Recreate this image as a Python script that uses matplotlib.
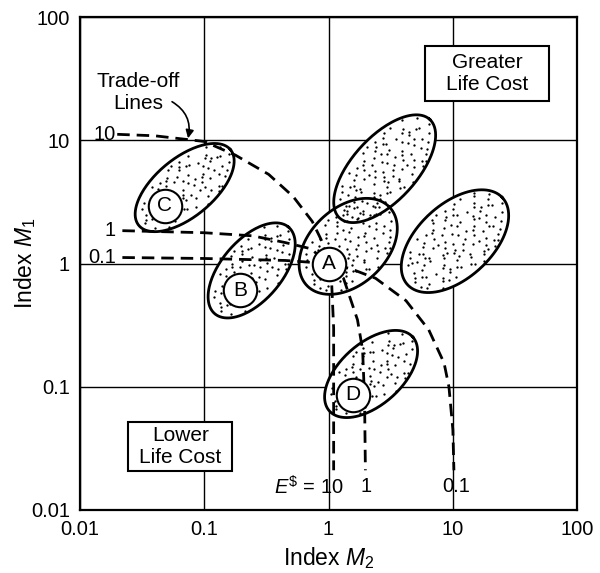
import matplotlib.pyplot as plt
import numpy as np

plt.rcParams['font.family'] = ['Liberation Sans', 'DejaVu Sans']
plt.rcParams['mathtext.fontset'] = 'custom'
plt.rcParams['mathtext.rm'] = 'Liberation Sans'
plt.rcParams['mathtext.it'] = 'Liberation Sans:italic'

# material classes: centre (M2, M1), spread in decades, tilt in degrees
center_m2 = [1.44, 0.241, 0.0697, 2.2, 2.83, 10.4]
center_m1 = [1.38, 0.88, 4.14, 0.127, 5.89, 1.52]
semi_major = [0.46, 0.46, 0.48, 0.45, 0.54, 0.52]
semi_minor = [0.31, 0.245, 0.237, 0.25, 0.26, 0.30]
tilt_deg = [44, 50, 40, 42, 48, 43]

# circled letters
label_names = ['A', 'B', 'C', 'D']
label_m2 = [1.0, 0.195, 0.0484, 1.56]
label_m1 = [1.0, 0.605, 2.94, 0.086]

# trade-off lines, E$ = 10, 1, 0.1
curve_10_m2 = [0.020, 0.040, 0.1, 0.178, 0.33, 0.52, 0.74, 0.89, 1.0, 1.06, 1.1, 1.1, 1.1]
curve_10_m1 = [11.2, 10.9, 9.8, 7.6, 5.3, 3.5, 2.2, 1.5, 1.0, 0.7, 0.3, 0.08, 0.021]
curve_1_m2 = [0.022, 0.1, 0.245, 0.45, 0.72, 1.0, 1.32, 1.71, 1.88, 1.95, 1.98]
curve_1_m1 = [1.85, 1.78, 1.68, 1.48, 1.32, 1.0, 0.76, 0.35, 0.2, 0.079, 0.021]
curve_01_m2 = [0.022, 0.1, 0.45, 1.0, 1.5, 2.39, 4.2, 6.4, 8.5, 9.3, 10.0, 10.2]
curve_01_m1 = [1.12, 1.10, 1.06, 1.0, 0.91, 0.76, 0.5, 0.29, 0.156, 0.1, 0.045, 0.021]

ticks = [0.01, 0.1, 1, 10, 100]
tick_labels = ['0.01', '0.1', '1', '10', '100']


def halton(i, base):
    f, r = 1.0, 0.0
    while i > 0:
        f /= base
        r += f * (i % base)
        i //= base
    return r


fig = plt.figure(figsize=(6, 5.73), dpi=100)
ax = fig.add_axes([0.133, 0.110, 0.829, 0.860])
ax.set_xscale('log')
ax.set_yscale('log')
ax.set_xlim(0.01, 100)
ax.set_ylim(0.01, 100)
ax.set_xticks(ticks)
ax.set_xticklabels(tick_labels)
ax.set_yticks(ticks)
ax.set_yticklabels(tick_labels)
ax.minorticks_off()
ax.tick_params(length=0, labelsize=14.5, pad=7)
ax.grid(True, color='black', lw=1.0)
ax.set_axisbelow(True)
for s in ax.spines.values():
    s.set_linewidth(1.6)

ax.set_xlabel(r'Index $M_2$', fontsize=16.5)
ax.set_ylabel(r'Index $M_1$', fontsize=16.5)
ax.xaxis.set_label_coords(0.5, -0.072)
ax.yaxis.set_label_coords(-0.085, 0.5)

# stipple texture (Halton points over the unit disk)
stip_u = np.array([halton(i, 2) for i in range(1, 400)]) * 2 - 1
stip_v = np.array([halton(i, 3) for i in range(1, 400)]) * 2 - 1
inside = stip_u ** 2 + stip_v ** 2 <= 0.90
stip_u = stip_u[inside]
stip_v = stip_v[inside]

# ellipses drawn in log space so they look like ellipses on the page
t = np.linspace(0, 2 * np.pi, 200)
outlines = []
for cx, cy, a, b, ang in zip(center_m2, center_m1, semi_major, semi_minor, tilt_deg):
    th = np.radians(ang)
    u = a * np.cos(t)
    v = b * np.sin(t)
    lx = np.log10(cx) + u * np.cos(th) - v * np.sin(th)
    ly = np.log10(cy) + u * np.sin(th) + v * np.cos(th)
    ax.fill(10 ** lx, 10 ** ly, facecolor='white', lw=0, zorder=2)
    outlines.append((10 ** lx, 10 ** ly))

    k = int(np.pi * a * b / 0.0042)
    su = a * stip_u[:k]
    sv = b * stip_v[:k]
    dx = np.log10(cx) + su * np.cos(th) - sv * np.sin(th)
    dy = np.log10(cy) + su * np.sin(th) + sv * np.cos(th)
    ax.scatter(10 ** dx, 10 ** dy, s=2.8, color='black', lw=0, zorder=2.2)
for xs, ys in outlines:
    ax.plot(xs, ys, color='black', lw=2.0, zorder=2.5)

# trade-off lines
for xs, ys in [(curve_10_m2, curve_10_m1), (curve_1_m2, curve_1_m1), (curve_01_m2, curve_01_m1)]:
    ax.plot(xs, ys, color='black', lw=2.0, ls=(0, (4.5, 2.5)), zorder=3)

ax.text(0.0195, 11.2, '10', ha='right', va='center', fontsize=14.5)
ax.text(0.0195, 1.85, '1', ha='right', va='center', fontsize=14.5)
ax.text(0.0195, 1.12, '0.1', ha='right', va='center', fontsize=14.5)
ax.text(1.32, 0.0154, r'$E^{\$}$ = 10', ha='right', va='center', fontsize=14.5)
ax.text(2.0, 0.0154, '1', ha='center', va='center', fontsize=14.5)
ax.text(10.6, 0.0154, '0.1', ha='center', va='center', fontsize=14.5)

# circled letters
ax.scatter(label_m2, label_m1, s=580, facecolor='white', edgecolor='black',
           lw=1.5, zorder=4)
for name, x, y in zip(label_names, label_m2, label_m1):
    ax.text(x, y, name, ha='center', va='center', fontsize=15, zorder=5)

# annotation
ax.text(0.0294, 24.4, 'Trade-off\nLines', ha='center', va='center',
        fontsize=15, zorder=5)
ax.annotate('', xy=(0.0742, 10.4), xytext=(0.0552, 20.6),
            arrowprops=dict(arrowstyle='-|>', color='black', lw=1.2,
                            connectionstyle='arc3,rad=-0.35',
                            shrinkA=0, shrinkB=0, mutation_scale=12),
            zorder=5)

# region boxes
ax.fill([6.0, 59, 59, 6.0], [21, 21, 58.4, 58.4], facecolor='white',
        edgecolor='black', lw=1.5, zorder=3)
ax.text(18.8, 35, 'Greater\nLife Cost', ha='center', va='center',
        fontsize=15, zorder=4)
ax.fill([0.0244, 0.168, 0.168, 0.0244], [0.0206, 0.0206, 0.0513, 0.0513],
        facecolor='white', edgecolor='black', lw=1.5, zorder=3)
ax.text(0.0643, 0.0325, 'Lower\nLife Cost', ha='center', va='center',
        fontsize=15, zorder=4)

fig.savefig('out.png', dpi=100)
